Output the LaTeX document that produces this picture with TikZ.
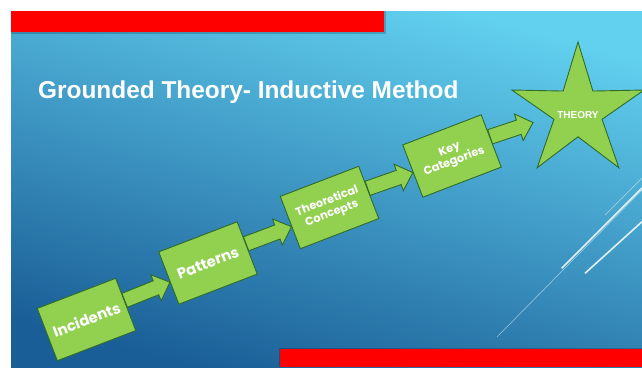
\documentclass[tikz,border=0pt]{standalone}
\usepackage{fontspec}
\setmainfont{Liberation Sans}
\newfontfamily\boxfont{Poppins}
\usetikzlibrary{shapes.geometric,calc}
\definecolor{slidetop}{HTML}{62D0EF}
\definecolor{slidebot}{HTML}{1A5E97}
\definecolor{gfill}{HTML}{92D050}
\definecolor{gline}{HTML}{2F6B2A}
\definecolor{barred}{HTML}{FF0000}
\newcommand{\greenarrow}[2]{%
  \coordinate (hb) at ($(#2)!15pt!(#1)$);
  \draw[garrowstyle] ($(#1)!7.5pt!90:(#2)$) -- ($(hb)!7.5pt!90:(#2)$) -- ($(hb)!14pt!90:(#2)$) -- (#2)
    -- ($(hb)!14pt!-90:(#2)$) -- ($(hb)!7.5pt!-90:(#2)$) -- ($(#1)!7.5pt!-90:(#2)$) -- cycle;}
\begin{document}
\begin{tikzpicture}[x=1pt,y=-1pt,
  stepbox/.style={draw=gline, fill=gfill, line width=0.9pt, rotate=21, minimum width=84pt,
    minimum height=56pt, inner sep=0pt, align=center, text=white},
  bigtxt/.style={font=\boxfont\bfseries\fontsize{14.8}{17}\selectfont},
  smalltxt/.style={font=\boxfont\bfseries\fontsize{11.3}{13}\selectfont},
  garrowstyle/.style={draw=gline, fill=gfill, line width=0.9pt, line join=miter},
  starstyle/.style={draw=gline, fill=gfill, line width=0.9pt, line join=miter},
  brightline/.style={white, opacity=.85, line width=1.6pt},
  faintline/.style={white, opacity=.45, line width=0.7pt}]
\useasboundingbox (0,0) rectangle (642,367);
\fill[white] (0,0) rectangle (642,367);
\shade[top color=slidetop, bottom color=slidebot, shading angle=-15] (11,11) rectangle (642,367);
% red bars
\fill[black, opacity=.2] (11,11) rectangle (385.5,33.5);
\fill[barred] (11,11) rectangle (384,32);
\fill[black, opacity=.2] (278.5,347.8) rectangle (642,367);
\fill[barred] (280,349.3) rectangle (642,367);
% decorative lines
\draw[brightline] (561.7,268.3) -- (642,188);
\draw[brightline] (585,273.3) -- (642,221.7);
\draw[faintline] (605,215) -- (642,178);
\draw[faintline] (497,337) -- (642,190);
% title
\node[anchor=base west, text=white, font=\bfseries\fontsize{24.4}{28}\selectfont, inner sep=0pt]
  (title) at (38,98) {Grounded Theory- Inductive Method};
% coordinates of boxes (for arrows)
\path (86.5,319.5) coordinate (cinc) (208,263) coordinate (cpat)
      (329.5,207.5) coordinate (ctheo) (452,156) coordinate (ckey)
      (578,111.5) coordinate (starc);
% invisible helpers for anchors
\node[stepbox, draw=none, fill=none] (inc0) at (cinc) {};
\node[stepbox, draw=none, fill=none] (pat0) at (cpat) {};
\node[stepbox, draw=none, fill=none] (theo0) at (ctheo) {};
\node[stepbox, draw=none, fill=none] (key0) at (ckey) {};
% star
\draw[starstyle] ([shift={(-90:69.5)}]starc) -- ([shift={(-54:25.3)}]starc)
  -- ([shift={(-18:69.5)}]starc) -- ([shift={(18:25.3)}]starc)
  -- ([shift={(54:69.5)}]starc) -- ([shift={(90:25.3)}]starc)
  -- ([shift={(126:69.5)}]starc) -- ([shift={(162:25.3)}]starc)
  -- ([shift={(198:69.5)}]starc) -- ([shift={(234:25.3)}]starc) -- cycle;
\node[text=white, inner sep=0pt, font=\bfseries\fontsize{10}{12}\selectfont] (star) at ([yshift=-3.5pt]starc) {THEORY};
\coordinate (a1s) at ($(inc0.east)!0.15!(inc0.north east)$);
\coordinate (a1e) at ($(pat0.west)!0.15!(pat0.south west)$);
\coordinate (a2s) at ($(pat0.east)!0.15!(pat0.north east)$);
\coordinate (a2e) at ($(theo0.west)!0.15!(theo0.south west)$);
\coordinate (a3s) at ($(theo0.east)!0.15!(theo0.north east)$);
\coordinate (a3e) at ($(key0.west)!0.05!(key0.south west)$);
\coordinate (a4s) at ($(key0.east)!0.15!(key0.north east)$);
\coordinate (a4e) at ($(starc)+(-45,11)$);
\greenarrow{a1s}{a1e}
\greenarrow{a2s}{a2e}
\greenarrow{a3s}{a3e}
\greenarrow{a4s}{a4e}
% boxes
\node[stepbox, bigtxt] (inc) at (cinc) {\raisebox{-3pt}{Incidents}};
\node[stepbox, bigtxt] (pat) at (cpat) {\raisebox{-3pt}{Patterns}};
\node[stepbox, smalltxt] (theo) at (ctheo) {Theoretical\\Concepts};
\node[stepbox, smalltxt] (key) at (ckey) {Key\\Categories};
\end{tikzpicture}
\end{document}
